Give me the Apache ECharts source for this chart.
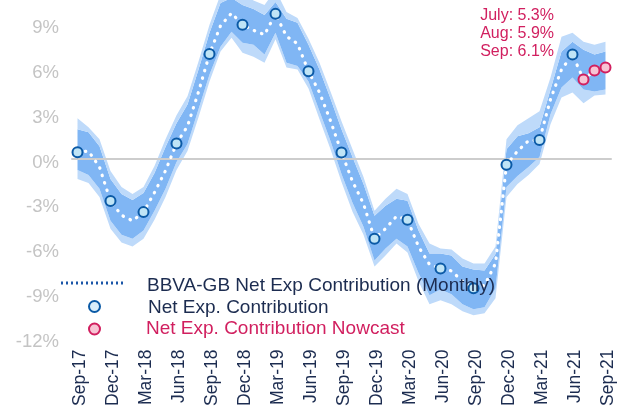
<!DOCTYPE html>
<html>
<head>
<meta charset="utf-8">
<script src="https://cdn.jsdelivr.net/npm/echarts@6/dist/echarts.min.js"></script>
<style>
  html, body { margin: 0; padding: 0; background: #fff; }
  #chart { width: 632px; height: 409px; }
</style>
</head>
<body>
<div id="chart"></div>
<script>
// x axis months (Sep-17 .. Sep-21)
const months = [
  'Sep-17', 'Oct-17', 'Nov-17', 'Dec-17', 'Jan-18', 'Feb-18', 'Mar-18', 'Apr-18', 'May-18',
  'Jun-18', 'Jul-18', 'Aug-18', 'Sep-18', 'Oct-18', 'Nov-18', 'Dec-18', 'Jan-19', 'Feb-19',
  'Mar-19', 'Apr-19', 'May-19', 'Jun-19', 'Jul-19', 'Aug-19', 'Sep-19', 'Oct-19', 'Nov-19',
  'Dec-19', 'Jan-20', 'Feb-20', 'Mar-20', 'Apr-20', 'May-20', 'Jun-20', 'Jul-20', 'Aug-20',
  'Sep-20', 'Oct-20', 'Nov-20', 'Dec-20', 'Jan-21', 'Feb-21', 'Mar-21', 'Apr-21', 'May-21',
  'Jun-21', 'Jul-21', 'Aug-21', 'Sep-21'
]

// BBVA-GB net exports contribution, monthly (%)
const monthly = [
  0.43, 0.5, -0.57, -2.85, -3.8, -4.17, -3.59, -2.27, -0.81,
  1.01, 2.17, 4.47, 7.01, 8.9, 9.75, 8.97, 8.6, 8.3,
  9.7, 8.19, 7.7, 5.85, 4.43, 2.53, 0.41, -1.53, -3.03,
  -5.37, -4.7, -3.87, -4.1, -5.9, -7.1, -7.37, -7.53, -8.23,
  -8.7, -8.5, -7.03, -0.41, 0.5, 1.2, 1.25, 3.97, 5.97,
  6.97, 5.3, 5.9, 6.1
]

// quarterly net exp. contribution (circles)
const quarterMonths = ['Sep-17', 'Dec-17', 'Mar-18', 'Jun-18', 'Sep-18', 'Dec-18', 'Mar-19', 'Jun-19',
  'Sep-19', 'Dec-19', 'Mar-20', 'Jun-20', 'Sep-20', 'Dec-20', 'Mar-21', 'Jun-21']
const quarterValues = [0.43, -2.85, -3.59, 1.01, 7.01, 8.97, 9.7, 5.85,
  0.41, -5.37, -4.1, -7.37, -8.7, -0.41, 1.25, 6.97]

// nowcast
const nowcastMonths = ['Jul-21', 'Aug-21', 'Sep-21']
const nowcastValues = [5.3, 5.9, 6.1]

// uncertainty bands (%)
const outerHigh = [
  2.7, 2.1, 1.3, -0.83, -1.9, -2.37, -1.9, -0.5, 1.3,
  2.9, 4.17, 6.5, 8.97, 11, 11.3, 11.2, 10.6, 10.3,
  11.3, 9.83, 9.43, 8.03, 6.43, 4.5, 2.5, 0.63, -1.23,
  -3.5, -2.7, -2.03, -2.37, -4.37, -5.7, -6.03, -6.1, -6.7,
  -7.03, -7.03, -5.9, 1.3, 2.23, 2.7, 3.17, 5.43, 8.17,
  8.43, 7.83, 7.63, 7.83
]
const innerHigh = [
  1.97, 1.77, 0.83, -1.37, -2.37, -2.77, -2.3, -0.97, 0.77,
  2.37, 3.63, 5.97, 8.43, 10.43, 10.77, 10.3, 10.03, 9.63,
  10.5, 9.37, 9.1, 7.63, 5.97, 4.03, 1.97, 0.1, -1.7,
  -3.83, -3.17, -2.7, -2.83, -4.83, -6.37, -6.37, -6.5, -7.23,
  -7.43, -7.5, -6.4, 0.63, 1.5, 1.7, 2.1, 4.63, 7.17,
  7.83, 7.3, 6.97, 7.17
]
const innerLow = [
  -0.77, -1.1, -2.03, -4.17, -5.1, -5.37, -4.83, -3.5, -2.03,
  -0.23, 0.97, 3.3, 5.63, 7.5, 8.5, 7.77, 7.63, 6.97,
  8.43, 6.43, 6.2, 5.17, 3.17, 1.17, -1.03, -2.97, -4.57,
  -6.83, -6.03, -5.37, -5.9, -7.67, -9.17, -8.77, -9.1, -9.77,
  -10.1, -9.97, -8.7, -1.9, -1.17, -0.57, 0.1, 2.97, 4.77,
  5.43, 4.63, 4.5, 4.63
]
const outerLow = [
  -1.37, -1.63, -2.57, -4.7, -5.63, -5.9, -5.37, -4.1, -2.57,
  -0.77, 0.5, 2.77, 5.17, 7.17, 8.1, 7.1, 6.83, 6.43,
  8.0, 6.1, 5.97, 4.7, 2.63, 0.63, -1.57, -3.57, -5.1,
  -7.23, -6.5, -5.7, -6.3, -8.23, -9.77, -9.5, -9.77, -10.23,
  -10.5, -10.37, -9.37, -2.57, -1.7, -1.1, -0.37, 2.3, 4.1,
  4.43, 3.7, 4.23, 4.3
]

// y axis range
const yMin = -12
const yMax = 10.63
const yStep = 3

const FONT = 'Liberation Sans, Arial, sans-serif'
const NAVY = '#1c2c50'
const PINK = '#d11f5f'
const LIGHT = '#bedafa'
const DARK = '#80b6f4'

// band pieces for the stack
const diff = (a, b) => a.map((v, i) => +(v - b[i]).toFixed(2))

const bandSeries = (name, data, color) => ({
  name,
  type: 'line',
  stack: 'band',
  stackStrategy: 'all',
  data,
  symbol: 'none',
  silent: true,
  lineStyle: {opacity: 0},
  areaStyle: color ? {color, opacity: 1} : undefined,
  z: 1
})

const chart = echarts.init(document.getElementById('chart'))

chart.setOption({
  animation: false,
  grid: {left: 72, right: 21, top: 0, bottom: 69.5},
  xAxis: [
    {
      // labels at the bottom
      type: 'category',
      data: months,
      position: 'bottom',
      axisLine: {show: false, onZero: false},
      axisTick: {show: false},
      axisLabel: {
        interval: 2,
        rotate: 90,
        margin: 12,
        verticalAlign: 'top',
        lineHeight: 6,
        color: NAVY,
        fontSize: 17.5,
        fontFamily: FONT
      }
    },
    {
      // zero line with ticks, drawn over the bands
      type: 'category',
      data: months,
      position: 'top',
      z: 2,
      axisLine: {onZero: true, lineStyle: {color: '#cdcdcd', width: 2}},
      axisTick: {interval: 2, inside: true, length: 6, lineStyle: {color: '#c4c4c4', width: 2}},
      axisLabel: {show: false}
    }
  ],
  yAxis: {
    type: 'value',
    min: yMin,
    max: yMax,
    interval: yStep,
    axisLine: {show: false},
    axisTick: {show: false},
    splitLine: {show: false},
    axisLabel: {
      showMaxLabel: false,
      margin: 13,
      verticalAlign: 'top',
      lineHeight: 8,
      formatter: '{value}%',
      color: '#c4c4c4',
      fontSize: 18.5,
      fontFamily: FONT
    }
  },
  series: [
    bandSeries('base', outerLow, null),
    bandSeries('outerLow', diff(innerLow, outerLow), LIGHT),
    bandSeries('inner', diff(innerHigh, innerLow), DARK),
    bandSeries('outerHigh', diff(outerHigh, innerHigh), LIGHT),
    {
      name: 'BBVA-GB Net Exp Contribution (Monthly)',
      type: 'line',
      data: monthly,
      symbol: 'none',
      lineStyle: {color: '#fff', width: 3.2, type: [0.5, 7.3], cap: 'round'},
      z: 3
    },
    {
      name: 'Net Exp. Contribution',
      type: 'scatter',
      data: quarterMonths.map((m, i) => [m, quarterValues[i]]),
      symbolSize: 10,
      itemStyle: {color: '#bfe4f6', borderColor: '#0b5aa6', borderWidth: 2, opacity: 1},
      z: 4
    },
    {
      name: 'Net Exp. Contribution Nowcast',
      type: 'scatter',
      data: nowcastMonths.map((m, i) => [m, nowcastValues[i]]),
      symbolSize: 10,
      itemStyle: {color: '#f7c4d4', borderColor: PINK, borderWidth: 2, opacity: 1},
      z: 4
    }
  ],
  graphic: [
    // legend
    {
      type: 'line', z: 100,
      shape: {x1: 61, y1: 283, x2: 123, y2: 283},
      style: {stroke: '#1a56a8', lineWidth: 3, lineDash: [2, 3]}
    },
    {
      type: 'text', z: 100, left: 147, top: 276,
      style: {text: 'BBVA-GB Net Exp Contribution (Monthly)', fill: NAVY, font: '19px ' + FONT}
    },
    {
      type: 'circle', z: 100,
      shape: {cx: 94.5, cy: 306.5, r: 5.5},
      style: {fill: '#d9eefa', stroke: '#0b5aa6', lineWidth: 2}
    },
    {
      type: 'text', z: 100, left: 148, top: 298,
      style: {text: 'Net Exp. Contribution', fill: NAVY, font: '19px ' + FONT}
    },
    {
      type: 'circle', z: 100,
      shape: {cx: 94.5, cy: 329, r: 5.5},
      style: {fill: '#f7c4d4', stroke: PINK, lineWidth: 2}
    },
    {
      type: 'text', z: 100, left: 146, top: 319.5,
      style: {text: 'Net Exp. Contribution Nowcast', fill: PINK, font: '19px ' + FONT}
    },
    // nowcast annotation
    {
      type: 'text', z: 100, right: 78, top: 6,
      style: {
        text: 'July: 5.3%\nAug: 5.9%\nSep: 6.1%',
        fill: PINK,
        font: '16px ' + FONT,
        lineHeight: 18.3,
        align: 'right'
      }
    }
  ]
})
</script>
</body>
</html>
